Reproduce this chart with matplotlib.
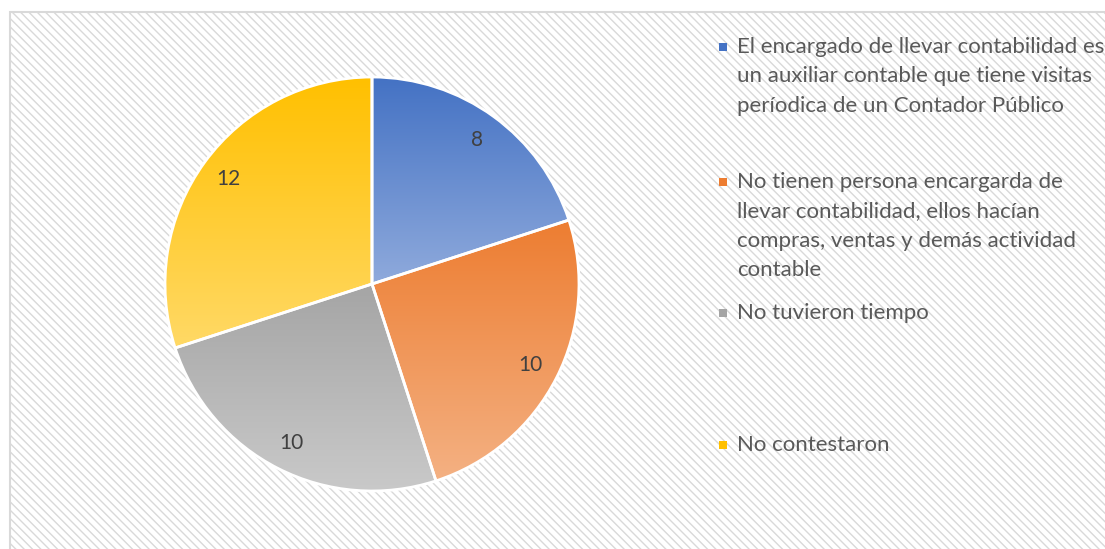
import numpy as np
import matplotlib
matplotlib.use('Agg')
import matplotlib.pyplot as plt
from matplotlib.patches import Rectangle
from matplotlib.colors import to_rgb

plt.rcParams['font.family'] = ['Lato', 'DejaVu Sans']
plt.rcParams['hatch.linewidth'] = 1.0
plt.rcParams['hatch.color'] = '#e3e3e3'

labels = [
    'El encargado de llevar contabilidad es\nun auxiliar contable que tiene visitas\nperíodica de un Contador Público',
    'No tienen persona encargarda de\nllevar contabilidad, ellos hacían\ncompras, ventas y demás actividad\ncontable',
    'No tuvieron tiempo',
    'No contestaron',
]
values = [8, 10, 10, 12]
top_colors = ['#4472C4', '#ED7D31', '#A5A5A5', '#FFC000']
bottom_colors = ['#8FAADC', '#F4B183', '#C9C9C9', '#FFD966']

W, H = 1105, 549
fig = plt.figure(figsize=(W / 100, H / 100), dpi=100)
fig.patch.set_facecolor('white')

# hatched chart area (runs off the right and bottom edges)
bg = Rectangle((10 / W, -0.05), 1.1, 1.05 - 12 / H, transform=fig.transFigure,
               facecolor='white', edgecolor='#d9d9d9', linewidth=1.5,
               hatch='\\\\\\\\', zorder=-1)
fig.patches.append(bg)

# pie axes: centre (372, 284) px, radius 207 px
cx, cy, r = 372, H - 284, 207
lim = 1.05
ax = fig.add_axes([(cx - r * lim) / W, (cy - r * lim) / H, 2 * r * lim / W, 2 * r * lim / H])
ax.set_zorder(1)
ax.patch.set_alpha(0)
ax.axis('off')

wedges, texts = ax.pie(values, startangle=90, counterclock=False, radius=1,
                       colors=top_colors, labels=[str(v) for v in values],
                       labeldistance=0.86,
                       wedgeprops=dict(edgecolor='white', linewidth=2))
for t in texts:
    t.set_fontsize(15)
    t.set_color('#404040')
    t.set_ha('center')
    t.set_va('center')
    t.set_zorder(5)

# vertical gradient fill per slice
for w, c1, c2 in zip(wedges, top_colors, bottom_colors):
    th = np.radians(np.linspace(w.theta1, w.theta2, 200))
    xs = np.concatenate([[0], np.cos(th)])
    ys = np.concatenate([[0], np.sin(th)])
    x0, x1, y0, y1 = xs.min(), xs.max(), ys.min(), ys.max()
    t = np.linspace(0, 1, 256)[:, None]
    a, b = np.array(to_rgb(c1)), np.array(to_rgb(c2))
    grad = a[None, :] * (1 - t) + b[None, :] * t
    img = ax.imshow(grad[:, None, :], extent=[x0, x1, y0, y1], origin='upper',
                    aspect='auto', zorder=2)
    img.set_clip_path(w)
    w.set_facecolor('none')
    w.set_zorder(3)

ax.set_xlim(-lim, lim)
ax.set_ylim(-lim, lim)
ax.set_aspect('equal')

# legend
entry_y = [47, 182, 313, 445]
line_h = 29.5
for lab, yy, c in zip(labels, entry_y, top_colors):
    fig.patches.append(Rectangle((719 / W, (H - yy - 4) / H), 8 / W, 8 / H,
                                 transform=fig.transFigure, facecolor=c,
                                 edgecolor='none', zorder=3))
    for k, line in enumerate(lab.split('\n')):
        fig.text(737 / W, (H - yy - k * line_h) / H, line, fontsize=16,
                 color='#595959', ha='left', va='center', zorder=4)

fig.savefig('out.png', dpi=100)
